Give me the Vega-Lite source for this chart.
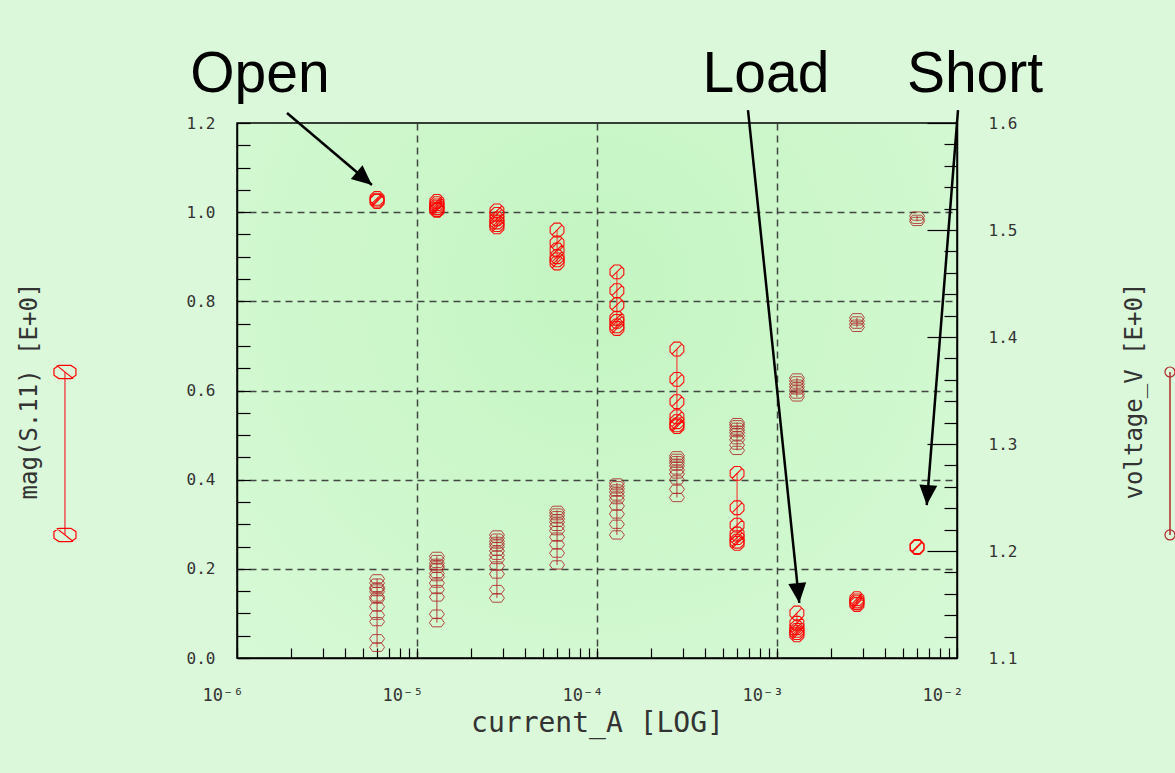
{
  "$schema": "https://vega.github.io/schema/vega-lite/v6.json",
  "width": 720,
  "height": 535,
  "autosize": {"type": "none"},
  "padding": {"left": 237, "top": 123, "right": 218, "bottom": 115},
  "background": "#dbf9da",
  "config": {
    "view": {
      "stroke": "#000000",
      "strokeWidth": 1.5,
      "fill": {"gradient": "radial", "x1": 0.5, "y1": 0.35, "x2": 0.5, "y2": 0.35, "r1": 0, "r2": 0.8,
        "stops": [{"offset": 0, "color": "#c4f5c2"}, {"offset": 1, "color": "#d9fad8"}]}
    },
    "axis": {
      "domainColor": "#000000", "domainWidth": 1.5,
      "tickColor": "#000000", "tickWidth": 1.2,
      "labelFont": "DejaVu Sans Mono", "labelFontSize": 16, "labelColor": "#333333",
      "titleFont": "DejaVu Sans Mono", "titleFontSize": 24, "titleFontWeight": "normal", "titleColor": "#333333",
      "gridColor": "#333333", "gridDash": [7, 5], "gridWidth": 1.5
    }
  },
  "datasets": {
    "mag": [
      {"current": 6e-6, "mag": 1.031}, {"current": 6e-6, "mag": 1.027}, {"current": 6e-6, "mag": 1.024},
      {"current": 1.29e-5, "mag": 1.024}, {"current": 1.29e-5, "mag": 1.019}, {"current": 1.29e-5, "mag": 1.014}, {"current": 1.29e-5, "mag": 1.010}, {"current": 1.29e-5, "mag": 1.006}, {"current": 1.29e-5, "mag": 1.004},
      {"current": 2.78e-5, "mag": 1.003}, {"current": 2.78e-5, "mag": 0.995}, {"current": 2.78e-5, "mag": 0.985}, {"current": 2.78e-5, "mag": 0.978}, {"current": 2.78e-5, "mag": 0.972}, {"current": 2.78e-5, "mag": 0.967},
      {"current": 6e-5, "mag": 0.960}, {"current": 6e-5, "mag": 0.931}, {"current": 6e-5, "mag": 0.915}, {"current": 6e-5, "mag": 0.900}, {"current": 6e-5, "mag": 0.893}, {"current": 6e-5, "mag": 0.886},
      {"current": 1.29e-4, "mag": 0.866}, {"current": 1.29e-4, "mag": 0.824}, {"current": 1.29e-4, "mag": 0.792}, {"current": 1.29e-4, "mag": 0.762}, {"current": 1.29e-4, "mag": 0.755}, {"current": 1.29e-4, "mag": 0.745}, {"current": 1.29e-4, "mag": 0.739},
      {"current": 2.78e-4, "mag": 0.693}, {"current": 2.78e-4, "mag": 0.625}, {"current": 2.78e-4, "mag": 0.575}, {"current": 2.78e-4, "mag": 0.541}, {"current": 2.78e-4, "mag": 0.530}, {"current": 2.78e-4, "mag": 0.523}, {"current": 2.78e-4, "mag": 0.519},
      {"current": 6e-4, "mag": 0.414}, {"current": 6e-4, "mag": 0.337}, {"current": 6e-4, "mag": 0.298}, {"current": 6e-4, "mag": 0.278}, {"current": 6e-4, "mag": 0.270}, {"current": 6e-4, "mag": 0.262}, {"current": 6e-4, "mag": 0.257},
      {"current": 1.29e-3, "mag": 0.101}, {"current": 1.29e-3, "mag": 0.078}, {"current": 1.29e-3, "mag": 0.068}, {"current": 1.29e-3, "mag": 0.062}, {"current": 1.29e-3, "mag": 0.057}, {"current": 1.29e-3, "mag": 0.052},
      {"current": 2.78e-3, "mag": 0.133}, {"current": 2.78e-3, "mag": 0.128}, {"current": 2.78e-3, "mag": 0.124}, {"current": 2.78e-3, "mag": 0.120},
      {"current": 6e-3, "mag": 0.250}, {"current": 6e-3, "mag": 0.248}
    ],
    "volt": [
      {"current": 6e-6, "voltage": 1.174}, {"current": 6e-6, "voltage": 1.170}, {"current": 6e-6, "voltage": 1.166}, {"current": 6e-6, "voltage": 1.1645}, {"current": 6e-6, "voltage": 1.162}, {"current": 6e-6, "voltage": 1.157}, {"current": 6e-6, "voltage": 1.155}, {"current": 6e-6, "voltage": 1.148}, {"current": 6e-6, "voltage": 1.140}, {"current": 6e-6, "voltage": 1.134}, {"current": 6e-6, "voltage": 1.118}, {"current": 6e-6, "voltage": 1.110},
      {"current": 1.29e-5, "voltage": 1.195}, {"current": 1.29e-5, "voltage": 1.192}, {"current": 1.29e-5, "voltage": 1.1885}, {"current": 1.29e-5, "voltage": 1.186}, {"current": 1.29e-5, "voltage": 1.184}, {"current": 1.29e-5, "voltage": 1.179}, {"current": 1.29e-5, "voltage": 1.176}, {"current": 1.29e-5, "voltage": 1.170}, {"current": 1.29e-5, "voltage": 1.164}, {"current": 1.29e-5, "voltage": 1.157}, {"current": 1.29e-5, "voltage": 1.141}, {"current": 1.29e-5, "voltage": 1.133},
      {"current": 2.78e-5, "voltage": 1.215}, {"current": 2.78e-5, "voltage": 1.212}, {"current": 2.78e-5, "voltage": 1.209}, {"current": 2.78e-5, "voltage": 1.2065}, {"current": 2.78e-5, "voltage": 1.204}, {"current": 2.78e-5, "voltage": 1.200}, {"current": 2.78e-5, "voltage": 1.196}, {"current": 2.78e-5, "voltage": 1.192}, {"current": 2.78e-5, "voltage": 1.186}, {"current": 2.78e-5, "voltage": 1.1785}, {"current": 2.78e-5, "voltage": 1.164}, {"current": 2.78e-5, "voltage": 1.156},
      {"current": 6e-5, "voltage": 1.238}, {"current": 6e-5, "voltage": 1.2355}, {"current": 6e-5, "voltage": 1.233}, {"current": 6e-5, "voltage": 1.230}, {"current": 6e-5, "voltage": 1.227}, {"current": 6e-5, "voltage": 1.223}, {"current": 6e-5, "voltage": 1.219}, {"current": 6e-5, "voltage": 1.213}, {"current": 6e-5, "voltage": 1.206}, {"current": 6e-5, "voltage": 1.198}, {"current": 6e-5, "voltage": 1.187},
      {"current": 1.29e-4, "voltage": 1.2636}, {"current": 1.29e-4, "voltage": 1.261}, {"current": 1.29e-4, "voltage": 1.258}, {"current": 1.29e-4, "voltage": 1.255}, {"current": 1.29e-4, "voltage": 1.2514}, {"current": 1.29e-4, "voltage": 1.248}, {"current": 1.29e-4, "voltage": 1.242}, {"current": 1.29e-4, "voltage": 1.2346}, {"current": 1.29e-4, "voltage": 1.225}, {"current": 1.29e-4, "voltage": 1.215},
      {"current": 2.78e-4, "voltage": 1.289}, {"current": 2.78e-4, "voltage": 1.2866}, {"current": 2.78e-4, "voltage": 1.2844}, {"current": 2.78e-4, "voltage": 1.282}, {"current": 2.78e-4, "voltage": 1.2794}, {"current": 2.78e-4, "voltage": 1.2757}, {"current": 2.78e-4, "voltage": 1.272}, {"current": 2.78e-4, "voltage": 1.2664}, {"current": 2.78e-4, "voltage": 1.2577}, {"current": 2.78e-4, "voltage": 1.250},
      {"current": 6e-4, "voltage": 1.320}, {"current": 6e-4, "voltage": 1.318}, {"current": 6e-4, "voltage": 1.3156}, {"current": 6e-4, "voltage": 1.313}, {"current": 6e-4, "voltage": 1.3106}, {"current": 6e-4, "voltage": 1.3075}, {"current": 6e-4, "voltage": 1.304}, {"current": 6e-4, "voltage": 1.299}, {"current": 6e-4, "voltage": 1.294},
      {"current": 1.29e-3, "voltage": 1.3617}, {"current": 1.29e-3, "voltage": 1.359}, {"current": 1.29e-3, "voltage": 1.356}, {"current": 1.29e-3, "voltage": 1.3533}, {"current": 1.29e-3, "voltage": 1.3505}, {"current": 1.29e-3, "voltage": 1.3467}, {"current": 1.29e-3, "voltage": 1.344},
      {"current": 2.78e-3, "voltage": 1.418}, {"current": 2.78e-3, "voltage": 1.415}, {"current": 2.78e-3, "voltage": 1.412}, {"current": 2.78e-3, "voltage": 1.409},
      {"current": 6e-3, "voltage": 1.513}, {"current": 6e-3, "voltage": 1.510}, {"current": 6e-3, "voltage": 1.508}
    ],
    "notes": [
      {"label": "Open", "current": 1.342e-6, "mag": 1.2696},
      {"label": "Load", "current": 8.69e-4, "mag": 1.2696},
      {"label": "Short", "current": 1.259e-2, "mag": 1.2696}
    ],
    "arrows": [
      {"label": "Open", "current": 1.896e-6, "mag": 1.2225, "current2": 5.62e-6, "mag2": 1.061},
      {"label": "Load", "current": 6.90e-4, "mag": 1.229, "current2": 1.330e-3, "mag2": 0.1234},
      {"label": "Short", "current": 1.013e-2, "mag": 1.229, "current2": 6.79e-3, "mag2": 0.343}
    ],
    "heads": [
      {"label": "Open", "current": 5.62e-6, "mag": 1.061},
      {"label": "Load", "current": 1.330e-3, "mag": 0.1234},
      {"label": "Short", "current": 6.79e-3, "mag": 0.343}
    ],
    "legL": [
      {"current": 1.107e-7, "mag": 0.6415},
      {"current": 1.107e-7, "mag": 0.276}
    ],
    "legR": [
      {"current": 0.1525, "voltage": 1.3673},
      {"current": 0.1525, "voltage": 1.215}
    ]
  },
  "encoding": {
    "x": {
      "field": "current", "type": "quantitative",
      "scale": {"type": "log", "domain": [1e-6, 1e-2], "nice": false},
      "axis": {
        "title": "current_A  [LOG]",
        "titleFontSize": 28,
        "titlePadding": 6,
        "values": [1e-6, 2e-6, 3e-6, 4e-6, 5e-6, 6e-6, 7e-6, 8e-6, 9e-6, 1e-5, 2e-5, 3e-5, 4e-5, 5e-5, 6e-5, 7e-5, 8e-5, 9e-5, 1e-4, 2e-4, 3e-4, 4e-4, 5e-4, 6e-4, 7e-4, 8e-4, 9e-4, 1e-3, 2e-3, 3e-3, 4e-3, 5e-3, 6e-3, 7e-3, 8e-3, 9e-3, 1e-2],
        "labelExpr": "abs(log(datum.value)/LN10 - round(log(datum.value)/LN10)) < 0.001 ? '10⁻' + ['⁰','¹','²','³','⁴','⁵','⁶','⁷','⁸','⁹'][abs(round(log(datum.value)/LN10))] : ''",
        "labelAlign": "right",
        "labelBaseline": "top",
        "labelOffset": 6,
        "labelFontSize": 17,
        "labelPadding": 39,
        "labelOverlap": false,
        "tickSize": -10,
        "grid": true,
        "gridOpacity": {"condition": {"test": "abs(log(datum.value)/LN10 - round(log(datum.value)/LN10)) < 0.001 && datum.value > 1.5e-6 && datum.value < 9.5e-3", "value": 0.9}, "value": 0}
      }
    }
  },
  "layer": [
    {
      "encoding": {
        "y": {
          "field": "mag", "type": "quantitative",
          "scale": {"domain": [0, 1.2], "nice": false, "zero": false},
          "axis": {
            "orient": "left",
            "title": "mag(S.11)  [E+0]",
            "titlePadding": 145,
            "values": [0, 0.05, 0.1, 0.15, 0.2, 0.25, 0.3, 0.35, 0.4, 0.45, 0.5, 0.55, 0.6, 0.65, 0.7, 0.75, 0.8, 0.85, 0.9, 0.95, 1.0, 1.05, 1.1, 1.15, 1.2],
            "labelExpr": "abs(datum.value*5 - round(datum.value*5)) < 0.001 ? format(datum.value, '.1f') : ''",
            "labelPadding": 35,
            "labelOverlap": false,
            "tickSize": -13,
            "grid": true,
            "gridOpacity": {"condition": {"test": "abs(datum.value*5 - round(datum.value*5)) < 0.001 && datum.value > 0.01 && datum.value < 1.19", "value": 0.9}, "value": 0}
          }
        }
      },
      "layer": [
        {
          "data": {"name": "mag"},
          "mark": {"type": "line", "color": "#ff2020", "strokeWidth": 1},
          "encoding": {"detail": {"field": "current", "type": "nominal"}, "order": {"field": "mag", "type": "quantitative"}}
        },
        {
          "data": {"name": "mag"},
          "mark": {"type": "point", "shape": "M-0.41,-1L0.41,-1L1,-0.41L1,0.41L0.41,1L-0.41,1L-1,0.41L-1,-0.41ZM-0.7,0.7L0.7,-0.7", "filled": false, "color": "#ff0000", "strokeWidth": 1.1, "size": 190, "opacity": 0.95},
          "encoding": {}
        },
        {
          "data": {"name": "legL"},
          "mark": {"type": "line", "color": "#f05050", "strokeWidth": 1.5},
          "encoding": {}
        },
        {
          "data": {"name": "legL"},
          "mark": {"type": "point", "shape": "M-0.55,-0.6L0.55,-0.6L1,-0.3L1,0.3L0.55,0.6L-0.55,0.6L-1,0.3L-1,-0.3ZM-0.75,-0.6L0.75,0.6", "filled": false, "color": "#ff0000", "strokeWidth": 1.2, "size": 484, "opacity": 1},
          "encoding": {}
        },
        {
          "data": {"name": "arrows"},
          "mark": {"type": "rule", "color": "#000000", "strokeWidth": 2.5},
          "encoding": {
            "x2": {"field": "current2"},
            "y2": {"field": "mag2"}
          }
        },
        {
          "data": {"name": "heads"},
          "transform": [{"filter": "datum.label == 'Open'"}],
          "mark": {"type": "point", "shape": "M0,0L-2,-0.9L-2,0.9Z", "filled": true, "color": "#000000", "opacity": 1, "size": 400, "angle": 40.3},
          "encoding": {}
        },
        {
          "data": {"name": "heads"},
          "transform": [{"filter": "datum.label == 'Load'"}],
          "mark": {"type": "point", "shape": "M0,0L-2,-0.9L-2,0.9Z", "filled": true, "color": "#000000", "opacity": 1, "size": 400, "angle": 84.1},
          "encoding": {}
        },
        {
          "data": {"name": "heads"},
          "transform": [{"filter": "datum.label == 'Short'"}],
          "mark": {"type": "point", "shape": "M0,0L-2,-0.9L-2,0.9Z", "filled": true, "color": "#000000", "opacity": 1, "size": 400, "angle": 94.5},
          "encoding": {}
        },
        {
          "data": {"name": "notes"},
          "mark": {"type": "text", "font": "Liberation Sans", "fontSize": 57, "color": "#000000", "align": "center", "baseline": "alphabetic"},
          "encoding": {"text": {"field": "label", "type": "nominal"}}
        }
      ]
    },
    {
      "encoding": {
        "y": {
          "field": "voltage", "type": "quantitative",
          "scale": {"domain": [1.1, 1.6], "nice": false, "zero": false},
          "axis": {
            "orient": "right",
            "title": "voltage_V  [E+0]",
            "titleAngle": -90,
            "titlePadding": 130,
            "values": [1.1, 1.12, 1.14, 1.16, 1.18, 1.2, 1.22, 1.24, 1.26, 1.28, 1.3, 1.32, 1.34, 1.36, 1.38, 1.4, 1.42, 1.44, 1.46, 1.48, 1.5, 1.52, 1.54, 1.56, 1.58, 1.6],
            "labelExpr": "abs(datum.value*10 - round(datum.value*10)) < 0.001 ? format(datum.value, '.1f') : ''",
            "labelPadding": 61,
            "labelOverlap": false,
            "tickSize": {"condition": {"test": "abs(datum.value*10 - round(datum.value*10)) < 0.001", "value": -30}, "value": -13},
            "grid": false
          }
        }
      },
      "layer": [
        {
          "data": {"name": "volt"},
          "mark": {"type": "line", "color": "#b83a3a", "strokeWidth": 1},
          "encoding": {"detail": {"field": "current", "type": "nominal"}, "order": {"field": "voltage", "type": "quantitative"}}
        },
        {
          "data": {"name": "volt"},
          "mark": {"type": "point", "shape": "M-0.6,-0.55L0.6,-0.55L1,0L0.6,0.55L-0.6,0.55L-1,0Z", "filled": false, "color": "#b02828", "strokeWidth": 1, "size": 225, "opacity": 0.85},
          "encoding": {}
        },
        {
          "data": {"name": "legR"},
          "mark": {"type": "line", "color": "#b02828", "strokeWidth": 1.5},
          "encoding": {}
        },
        {
          "data": {"name": "legR"},
          "mark": {"type": "point", "shape": "circle", "filled": false, "color": "#b02828", "strokeWidth": 1.2, "size": 100, "opacity": 1},
          "encoding": {}
        }
      ]
    }
  ],
  "resolve": {"scale": {"y": "independent"}}
}
